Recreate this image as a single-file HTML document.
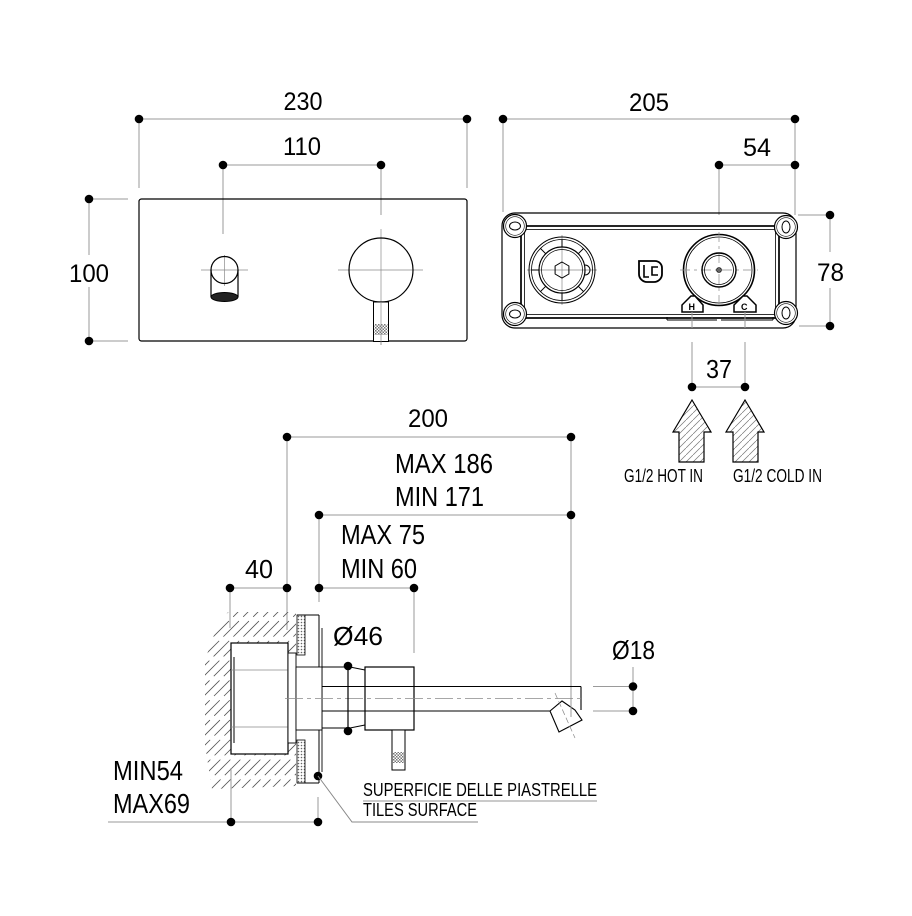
<!DOCTYPE html>
<html><head><meta charset="utf-8"><style>
html,body{margin:0;padding:0;background:#fff;}
svg{display:block;}
text{font-family:"Liberation Sans",Arial,sans-serif;fill:#000;}
.d{stroke:#9a9a9a;stroke-width:1;fill:none;}
.o{stroke:#000;stroke-width:1.2;fill:none;}
.c{stroke:#8a8a8a;stroke-width:0.7;fill:none;}
</style></head><body>
<svg width="912" height="916" viewBox="0 0 912 916" xmlns="http://www.w3.org/2000/svg">
<defs>
 <pattern id="h6" width="7" height="7" patternUnits="userSpaceOnUse"><path d="M-1,8 L8,-1" stroke="#777" stroke-width="0.7"/></pattern>
 <pattern id="dots" width="3" height="3" patternUnits="userSpaceOnUse"><rect width="3" height="3" fill="#fff"/><circle cx="1.5" cy="1.5" r="0.8" fill="#666"/></pattern>
 <pattern id="xh" width="3" height="3" patternUnits="userSpaceOnUse"><rect width="3" height="3" fill="#fff"/><rect width="1.5" height="1.5" fill="#777"/><rect x="1.5" y="1.5" width="1.5" height="1.5" fill="#777"/></pattern>
 <clipPath id="wallclip"><polygon points="228,612 296,612 296,786 212,789 205,745 205,660 215,632"/></clipPath>
 <clipPath id="a1"><polygon points="692,400 711,432 704,432 704,462 679,462 679,432 673,432"/></clipPath>
 <clipPath id="a2"><polygon points="745,400 764,432 758,432 758,462 733,462 733,432 726,432"/></clipPath>
</defs>
<rect width="912" height="916" fill="#fff"/>

<!-- ===== FRONT VIEW ===== -->
<line class="d" x1="139" y1="119" x2="467" y2="119"/>
<line class="d" x1="139" y1="119" x2="139" y2="188"/>
<line class="d" x1="467" y1="119" x2="467" y2="188"/>
<line class="d" x1="223" y1="165" x2="381" y2="165"/>
<line class="d" x1="223" y1="165" x2="223" y2="234"/>
<line class="d" x1="381" y1="165" x2="381" y2="215"/>
<line class="d" x1="89" y1="199" x2="89" y2="255"/>
<line class="d" x1="89" y1="287" x2="89" y2="341"/>
<line class="d" x1="89" y1="199" x2="128" y2="199"/>
<line class="d" x1="89" y1="341" x2="128" y2="341"/>
<g fill="#000">
<circle cx="139" cy="119" r="4.3"/><circle cx="467" cy="119" r="4.3"/>
<circle cx="223" cy="165" r="4.3"/><circle cx="381" cy="165" r="4.3"/>
<circle cx="89" cy="199" r="4.3"/><circle cx="89" cy="341" r="4.3"/>
</g>
<text x="283.5" y="110" font-size="25" textLength="39" lengthAdjust="spacingAndGlyphs">230</text>
<text x="283" y="155" font-size="25" textLength="38" lengthAdjust="spacingAndGlyphs">110</text>
<text x="69" y="282" font-size="25" textLength="40" lengthAdjust="spacingAndGlyphs">100</text>

<rect class="o" x="139" y="199" width="328" height="142" rx="2.5"/>
<!-- spout -->
<line class="c" x1="201" y1="270" x2="248" y2="270"/>
<line class="c" x1="224.5" y1="255" x2="224.5" y2="286"/>
<circle class="o" cx="224.5" cy="270" r="13.5"/>
<line class="o" x1="211" y1="270" x2="211" y2="297" stroke-width="1"/>
<line class="o" x1="238" y1="270" x2="238" y2="297" stroke-width="1"/>
<ellipse cx="224.5" cy="297" rx="13.5" ry="4.5" fill="#222" stroke="#000" stroke-width="1"/>
<!-- handle -->
<line class="c" x1="338" y1="270" x2="423" y2="270"/>
<line class="c" x1="381" y1="229" x2="381" y2="345"/>
<circle class="o" cx="381" cy="270" r="32" stroke-width="2.3"/>
<rect x="373.5" y="302" width="15" height="39.5" fill="#fff" stroke="#000" stroke-width="1"/>
<rect x="374.5" y="324" width="13" height="11" fill="url(#xh)"/>
<line class="c" x1="381" y1="302" x2="381" y2="345"/>

<!-- ===== TOP RIGHT VIEW ===== -->
<line class="d" x1="503" y1="119" x2="795" y2="119"/>
<line class="d" x1="719" y1="165" x2="795" y2="165"/>
<line class="d" x1="503" y1="119" x2="503" y2="212"/>
<line class="d" x1="719" y1="165" x2="719" y2="215"/>
<line class="d" x1="795" y1="119" x2="795" y2="215"/>
<line class="d" x1="798" y1="215" x2="830" y2="215"/>
<line class="d" x1="799" y1="326" x2="830" y2="326"/>
<line class="d" x1="830" y1="215" x2="830" y2="252"/>
<line class="d" x1="830" y1="288" x2="830" y2="326"/>
<g fill="#000">
<circle cx="503" cy="119" r="4.3"/><circle cx="795" cy="119" r="4.3"/>
<circle cx="719" cy="165" r="4.3"/><circle cx="795" cy="165" r="4.3"/>
<circle cx="830" cy="215" r="4.3"/><circle cx="830" cy="326" r="4.3"/>
</g>
<text x="629" y="111" font-size="25" textLength="40" lengthAdjust="spacingAndGlyphs">205</text>
<text x="743" y="156" font-size="25" textLength="28" lengthAdjust="spacingAndGlyphs">54</text>
<text x="817" y="281" font-size="25" textLength="27" lengthAdjust="spacingAndGlyphs">78</text>

<!-- box -->
<rect class="o" x="502" y="213" width="294" height="115" rx="13"/>
<rect x="521" y="226" width="258" height="92" fill="none" stroke="#000" stroke-width="1.7"/>
<rect x="524.5" y="229.5" width="251" height="85" fill="none" stroke="#000" stroke-width="0.8"/>
<g stroke="#000" fill="#fff">
<circle cx="515" cy="226" r="11.5" stroke-width="1.2"/><circle cx="515" cy="226" r="9.3" stroke-width="0.6" fill="none"/>
<ellipse cx="515" cy="226" rx="5.5" ry="4" stroke-width="1"/>
<circle cx="515" cy="314" r="11.5" stroke-width="1.2"/><circle cx="515" cy="314" r="9.3" stroke-width="0.6" fill="none"/>
<ellipse cx="515" cy="314" rx="5.5" ry="4" stroke-width="1"/>
<circle cx="786" cy="227" r="11.5" stroke-width="1.2"/><circle cx="786" cy="227" r="9.3" stroke-width="0.6" fill="none"/>
<ellipse cx="786" cy="227" rx="4" ry="6" stroke-width="1"/>
<circle cx="786" cy="313" r="11.5" stroke-width="1.2"/><circle cx="786" cy="313" r="9.3" stroke-width="0.6" fill="none"/>
<ellipse cx="786" cy="313" rx="4" ry="6" stroke-width="1"/>
</g>
<!-- left valve -->
<line class="c" x1="527" y1="270" x2="597" y2="270"/>
<line class="c" x1="562" y1="235" x2="562" y2="305"/>
<circle cx="562" cy="270" r="33" fill="none" stroke="#000" stroke-width="1"/>
<circle cx="562" cy="270" r="30.5" fill="none" stroke="#000" stroke-width="0.8"/>
<circle cx="562" cy="270" r="23" fill="none" stroke="#000" stroke-width="1.2"/>
<circle cx="562" cy="270" r="20.5" fill="none" stroke="#000" stroke-width="0.7"/>
<g stroke="#000" stroke-width="1">
<line x1="562" y1="247" x2="562" y2="239.5"/>
<line x1="562" y1="293" x2="562" y2="300.5"/>
<line x1="539" y1="270" x2="531.5" y2="270"/>
<line x1="578.3" y1="253.7" x2="583.6" y2="248.4"/>
<line x1="578.3" y1="286.3" x2="583.6" y2="291.6"/>
<line x1="545.7" y1="253.7" x2="540.4" y2="248.4"/>
<line x1="545.7" y1="286.3" x2="540.4" y2="291.6"/>
</g>
<path d="M585,265 A5,5 0 0 1 585,275" fill="none" stroke="#000" stroke-width="1"/>
<polygon points="562,262 568.9,266 568.9,274 562,278 555.1,274 555.1,266" fill="none" stroke="#000" stroke-width="1"/>
<!-- logo -->
<path d="M639,261 H655 A7,7 0 0 1 662,268 V274 A8,8 0 0 1 654,282 H647 A8,8 0 0 1 639,274 Z" fill="none" stroke="#000" stroke-width="1.8"/>
<path d="M644,265 V277 H649" fill="none" stroke="#000" stroke-width="1.6"/>
<path d="M658,267 H652 V275 H658" fill="none" stroke="#000" stroke-width="1.6"/>
<!-- right valve -->
<circle cx="719" cy="270" r="35.5" fill="#fff" stroke="#000" stroke-width="1.6"/>
<circle cx="719" cy="270" r="33" fill="none" stroke="#000" stroke-width="0.8"/>
<line class="c" x1="680" y1="270" x2="758" y2="270" stroke-dasharray="10 4 3 4"/>
<line class="c" x1="719" y1="232" x2="719" y2="308" stroke-dasharray="10 4 3 4"/>
<circle cx="719" cy="270" r="17" fill="none" stroke="#000" stroke-width="1.4"/>
<circle cx="719" cy="270" r="14.5" fill="none" stroke="#000" stroke-width="0.8"/>
<circle cx="719" cy="270" r="2.5" fill="#666" stroke="#000" stroke-width="0.6"/>
<!-- H / C tabs -->
<polygon points="682,312 682,305 691,296 695,296 703,305 703,312" fill="#fff" stroke="#000" stroke-width="1.5"/>
<text x="688.5" y="310" font-size="9" fill="#777" font-weight="bold">H</text>
<polygon points="734,312 734,305 743,296 747,296 756,305 756,312" fill="#fff" stroke="#000" stroke-width="1.5"/>
<text x="741" y="310" font-size="9" fill="#777" font-weight="bold">C</text>
<g stroke="#000" stroke-width="1">
<line x1="667" y1="320" x2="717" y2="320"/><line x1="721" y1="320" x2="773" y2="320"/>
<line x1="667" y1="317" x2="667" y2="320"/><line x1="773" y1="317" x2="773" y2="320"/>
</g>
<!-- 37 -->
<line class="d" x1="692" y1="312" x2="692" y2="328"/>
<line class="d" x1="745" y1="312" x2="745" y2="328"/>
<line class="d" x1="692" y1="342" x2="692" y2="387"/>
<line class="d" x1="745" y1="342" x2="745" y2="387"/>
<line class="d" x1="692" y1="387" x2="745" y2="387"/>
<circle cx="692" cy="387" r="4.3"/><circle cx="745" cy="387" r="4.3"/>
<text x="706" y="378" font-size="26" textLength="26" lengthAdjust="spacingAndGlyphs">37</text>
<!-- arrows -->
<rect x="670" y="398" width="45" height="66" fill="url(#h6)" clip-path="url(#a1)"/>
<polygon points="692,400 711,432 704,432 704,462 679,462 679,432 673,432" fill="none" stroke="#000" stroke-width="1.2"/>
<rect x="723" y="398" width="45" height="66" fill="url(#h6)" clip-path="url(#a2)"/>
<polygon points="745,400 764,432 758,432 758,462 733,462 733,432 726,432" fill="none" stroke="#000" stroke-width="1.2"/>
<text x="624" y="482" font-size="18" textLength="79" lengthAdjust="spacingAndGlyphs">G1/2 HOT IN</text>
<text x="733" y="482" font-size="18" textLength="89" lengthAdjust="spacingAndGlyphs">G1/2 COLD IN</text>

<!-- ===== SIDE VIEW ===== -->
<line class="d" x1="287" y1="437" x2="571" y2="437"/>
<line class="d" x1="287" y1="437" x2="287" y2="630"/>
<line class="d" x1="571" y1="437" x2="571" y2="717"/>
<line class="d" x1="319" y1="515" x2="571" y2="515"/>
<line class="d" x1="319" y1="515" x2="319" y2="602"/>
<line class="d" x1="230" y1="588" x2="287" y2="588"/>
<line class="d" x1="319" y1="588" x2="414" y2="588"/>
<line class="d" x1="230" y1="588" x2="230" y2="628"/>
<line class="d" x1="414" y1="588" x2="414" y2="653"/>
<g fill="#000">
<circle cx="287" cy="437" r="4.3"/><circle cx="571" cy="437" r="4.3"/>
<circle cx="319" cy="515" r="4.3"/><circle cx="571" cy="515" r="4.3"/>
<circle cx="230" cy="588" r="4.3"/><circle cx="287" cy="588" r="4.3"/>
<circle cx="319" cy="588" r="4.3"/><circle cx="414" cy="588" r="4.3"/>
</g>
<text x="408" y="427" font-size="25" textLength="40" lengthAdjust="spacingAndGlyphs">200</text>
<text x="395" y="473" font-size="27.5" textLength="98" lengthAdjust="spacingAndGlyphs">MAX 186</text>
<text x="395" y="506" font-size="27.5" textLength="89" lengthAdjust="spacingAndGlyphs">MIN 171</text>
<text x="341" y="544" font-size="27.5" textLength="84" lengthAdjust="spacingAndGlyphs">MAX 75</text>
<text x="341" y="578" font-size="27.5" textLength="76" lengthAdjust="spacingAndGlyphs">MIN 60</text>
<text x="245" y="578" font-size="26" textLength="28" lengthAdjust="spacingAndGlyphs">40</text>

<!-- wall hatch -->
<g clip-path="url(#wallclip)">
<path d="M35,795L225,605M45,795L235,605M55,795L245,605M65,795L255,605M75,795L265,605M85,795L275,605M95,795L285,605M105,795L295,605M115,795L305,605M125,795L315,605M135,795L325,605M145,795L335,605M155,795L345,605M165,795L355,605M175,795L365,605M185,795L375,605M195,795L385,605M205,795L395,605M215,795L405,605M225,795L415,605M235,795L425,605M245,795L435,605M255,795L445,605M265,795L455,605M275,795L465,605M285,795L475,605M295,795L485,605" stroke="#555" stroke-width="0.8" fill="none" stroke-dasharray="22 6"/>
</g>
<!-- body -->
<rect x="231" y="643" width="57" height="111" fill="#fff" stroke="#000" stroke-width="1.2"/>
<line x1="234" y1="657" x2="234" y2="743" stroke="#000" stroke-width="1"/>
<line class="c" x1="231" y1="670" x2="288" y2="670"/>
<line class="c" x1="231" y1="727" x2="288" y2="727"/>
<rect x="288" y="653" width="8" height="90" fill="#fff" stroke="#000" stroke-width="0.9"/>
<!-- tiles & plate -->
<rect x="297" y="615" width="8" height="40" fill="url(#dots)" stroke="#000" stroke-width="0.8"/>
<rect x="297" y="740" width="8" height="43" fill="url(#dots)" stroke="#000" stroke-width="0.8"/>
<line x1="297" y1="615" x2="319" y2="615" stroke="#000" stroke-width="1"/>
<line x1="297" y1="783" x2="319" y2="783" stroke="#000" stroke-width="1"/>
<line x1="319" y1="615" x2="319" y2="783" stroke="#000" stroke-width="1"/>
<line x1="322" y1="628" x2="322" y2="772" stroke="#000" stroke-width="0.9"/>
<rect x="296" y="667" width="26" height="63" fill="#fff" stroke="#000" stroke-width="0.9"/>
<!-- tube + handle -->
<path d="M322,667 H350 L365,670 M322,728 H350 L365,725" fill="none" stroke="#000" stroke-width="1"/>
<rect x="365" y="667" width="49" height="63" fill="#fff" stroke="#000" stroke-width="1.2"/>
<!-- spout -->
<line x1="322" y1="686.5" x2="581" y2="686.5" stroke="#000" stroke-width="1.1"/>
<line x1="322" y1="711" x2="552" y2="711" stroke="#000" stroke-width="1.1"/>
<line x1="581" y1="686.5" x2="581" y2="710" stroke="#000" stroke-width="1.1"/>
<line class="c" x1="285" y1="698.5" x2="584" y2="698.5" stroke-dasharray="18 4 4 4"/>
<polygon points="550,711 562,701 575,710 582,720 559,732" fill="#fff" stroke="#000" stroke-width="1.1"/>
<line class="c" x1="555" y1="693" x2="575" y2="738" stroke-dasharray="6 3"/>
<line class="d" x1="571" y1="700" x2="571" y2="717"/>
<!-- lever -->
<rect x="392" y="730" width="13" height="40" fill="#fff" stroke="#000" stroke-width="1"/>
<rect x="393" y="752" width="11" height="11" fill="url(#xh)"/>
<!-- Ø46 -->
<line class="o" x1="348" y1="666" x2="348" y2="731" stroke-width="1"/>
<circle cx="348" cy="666" r="4.3"/><circle cx="348" cy="731" r="4.3"/>
<text x="333" y="645" font-size="26" textLength="50" lengthAdjust="spacingAndGlyphs">Ø46</text>
<!-- Ø18 -->
<line class="d" x1="593" y1="686.5" x2="633" y2="686.5"/>
<line class="d" x1="593" y1="711" x2="633" y2="711"/>
<line class="d" x1="633" y1="667" x2="633" y2="711"/>
<circle cx="633" cy="686.5" r="4.3"/><circle cx="633" cy="711" r="4.3"/>
<text x="612" y="659" font-size="26" textLength="43" lengthAdjust="spacingAndGlyphs">Ø18</text>
<!-- MIN54 / MAX69 -->
<line class="d" x1="108" y1="822" x2="318" y2="822"/>
<line class="d" x1="231" y1="768" x2="231" y2="822"/>
<line class="d" x1="318" y1="797" x2="318" y2="822"/>
<circle cx="231" cy="822" r="4.3"/><circle cx="318" cy="822" r="4.3"/>
<text x="113" y="780" font-size="28" textLength="70" lengthAdjust="spacingAndGlyphs">MIN54</text>
<text x="113" y="813" font-size="28" textLength="77" lengthAdjust="spacingAndGlyphs">MAX69</text>
<!-- leader -->
<circle cx="318" cy="776" r="4.3"/>
<path d="M318,776 L352,822 H478" fill="none" stroke="#888" stroke-width="1"/>
<line x1="363" y1="801" x2="597" y2="801" stroke="#aaa" stroke-width="1.2"/>
<text x="363" y="796" font-size="18" textLength="234" lengthAdjust="spacingAndGlyphs">SUPERFICIE DELLE PIASTRELLE</text>
<text x="363" y="816" font-size="18" textLength="114" lengthAdjust="spacingAndGlyphs">TILES SURFACE</text>
</svg>
</body></html>
